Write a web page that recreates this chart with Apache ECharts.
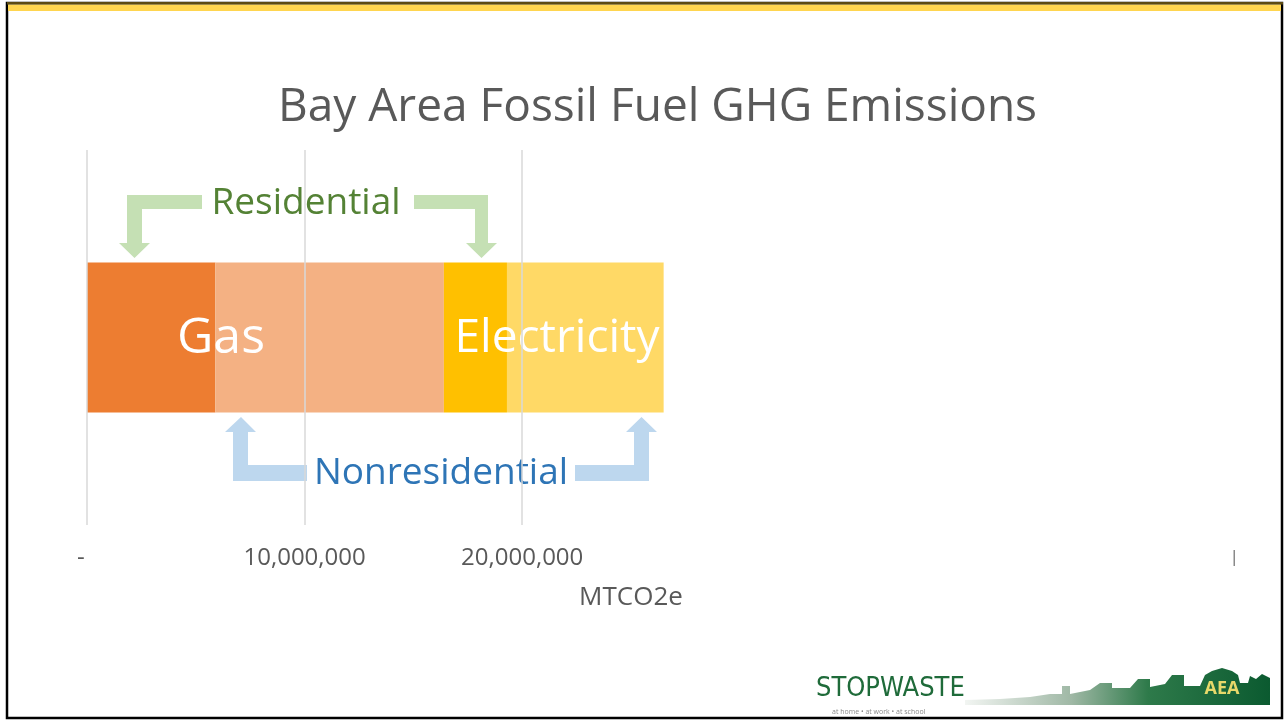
<!DOCTYPE html>
<html lang="en">

<head>
    <meta charset="UTF-8">
    <script src="https://cdn.jsdelivr.net/npm/echarts@6.0.0/dist/echarts.min.js"></script>
    <title>Bay Area Fossil Fuel GHG Emissions</title>
    <style>
        html, body { margin: 0; padding: 0; background: #fff; }
    </style>
</head>

<body>
    <div id="main" style="width: 1286px;height:721px;"></div>
    <script>
        // data (MTCO2e)
        var categories = ['Bay Area'];
        var resGas = [5900000];
        var nonresGas = [10500000];
        var resElec = [2900000];
        var nonresElec = [7200000];
        var gridValues = [0, 10000000, 20000000];
        var tickLabels = { 0: '-  ', 10000000: '10,000,000', 20000000: '20,000,000' };

        var FONT = '"Open Sans"';
        var green = '#C5E0B4', blue = '#BDD7EE';

        function seg(name, data, color) {
            return {
                name: name, type: 'bar', stack: 'total', data: data,
                barWidth: 150, silent: true,
                itemStyle: { color: color }
            };
        }

        var series = [
            seg('Residential gas', resGas, '#ED7D31'),
            seg('Nonresidential gas', nonresGas, '#F4B183'),
            seg('Residential electricity', resElec, '#FFC000'),
            seg('Nonresidential electricity', nonresElec, '#FFD966')
        ];
        // vertical gridlines only where the slide shows them
        series[0].markLine = {
            silent: true, symbol: 'none', label: { show: false },
            lineStyle: { color: '#D9D9D9', width: 1.5, type: 'solid' },
            data: gridValues.map(function (v) { return { xAxis: v }; })
        };

        // small skyline for the logo strip
        var sky = [[965, 705], [965, 700], [1000, 699], [1030, 697], [1050, 694], [1062, 694], [1062, 686], [1070, 686], [1070, 694],
            [1090, 690], [1100, 683], [1112, 683], [1112, 688], [1130, 688], [1138, 679], [1150, 679], [1150, 687], [1165, 684],
            [1172, 675], [1184, 675], [1184, 686], [1200, 686], [1205, 675], [1212, 671], [1222, 668], [1232, 671], [1238, 675],
            [1240, 683], [1248, 683], [1250, 676], [1256, 679], [1262, 674], [1270, 678], [1270, 705]];

        var myChart = echarts.init(document.getElementById('main'));
        var option = {
            backgroundColor: '#fff',
            title: {
                text: 'Bay Area Fossil Fuel GHG Emissions',
                left: 273, top: 80,
                textStyle: { fontFamily: 'Open Sans', fontSize: 46, fontWeight: 'normal', color: '#595959' }
            },
            grid: { left: 87, right: 111, top: 150, bottom: 196 },
            xAxis: {
                type: 'value', min: 0, max: 50000000, interval: 10000000,
                name: 'MTCO2e', nameLocation: 'middle', nameGap: 60,
                nameTextStyle: { fontFamily: 'Open Sans', fontSize: 26, color: '#595959' },
                axisLine: { show: false }, axisTick: { show: false },
                splitLine: { show: false },
                axisLabel: {
                    margin: 21, fontFamily: 'Open Sans', fontSize: 24, color: '#595959',
                    formatter: function (v) { return tickLabels[v] || ''; }
                }
            },
            yAxis: { type: 'category', data: categories, show: false },
            series: series,
            graphic: [
                // slide frame
                { type: 'rect', shape: { x: 7, y: 3, width: 1275, height: 715 }, style: { fill: 'none', stroke: '#000', lineWidth: 2.5 }, z: 10 },
                { type: 'rect', shape: { x: 8, y: 4.5, width: 1273, height: 6.5 }, style: { fill: '#FFD54F' }, z: 10 },
                { type: 'rect', shape: { x: 7, y: 2, width: 1276, height: 2.5 }, style: { fill: '#5C4A12' }, z: 11 },
                // residential arrows
                { type: 'polygon', shape: { points: [[202, 195], [202, 209], [142, 209], [142, 243], [150, 243], [134.5, 258], [119, 243], [127, 243], [127, 195]] }, style: { fill: green } },
                { type: 'polygon', shape: { points: [[414, 195], [488, 195], [488, 243], [497, 243], [481.5, 258], [466, 243], [475, 243], [475, 209], [414, 209]] }, style: { fill: green } },
                // nonresidential arrows
                { type: 'polygon', shape: { points: [[241, 417], [256, 432], [248, 432], [248, 465], [307, 465], [307, 481], [233, 481], [233, 432], [225, 432]] }, style: { fill: blue } },
                { type: 'polygon', shape: { points: [[641.5, 417], [657, 432], [649, 432], [649, 481], [575, 481], [575, 465], [634, 465], [634, 432], [626, 432]] }, style: { fill: blue } },
                { type: 'text', x: 306, y: 203, style: { text: 'Residential', fill: '#548235', font: '37px ' + FONT, textAlign: 'center', textVerticalAlign: 'middle' }, z: 5 },
                { type: 'text', x: 441, y: 473, style: { text: 'Nonresidential', fill: '#2E75B6', font: '37px ' + FONT, textAlign: 'center', textVerticalAlign: 'middle' }, z: 5 },
                { type: 'text', x: 221, y: 339, style: { text: 'Gas', fill: '#fff', font: '50px ' + FONT, textAlign: 'center', textVerticalAlign: 'middle' }, z: 5 },
                { type: 'text', x: 557, y: 339, style: { text: 'Electricity', fill: '#fff', font: '46px ' + FONT, textAlign: 'center', textVerticalAlign: 'middle' }, z: 5 },
                // stray mark at the right of the axis
                { type: 'rect', shape: { x: 1233.5, y: 550, width: 1.5, height: 16 }, style: { fill: '#8a8a8a' } },
                // logos, bottom right
                { type: 'text', x: 816, y: 689, style: { text: 'STOPWASTE', fill: '#1F6B3A', font: '27px "DejaVu Sans Condensed"', textVerticalAlign: 'middle' } },
                { type: 'text', x: 832, y: 712, style: { text: 'at home • at work • at school', fill: '#8a8a8a', font: '7px ' + FONT, textVerticalAlign: 'middle' } },
                {
                    type: 'polygon', shape: { points: sky },
                    style: {
                        fill: new echarts.graphic.LinearGradient(0, 0, 1, 0, [
                            { offset: 0, color: '#f2f5f2' }, { offset: 0.35, color: '#9fb8a5' },
                            { offset: 0.6, color: '#2e7a4a' }, { offset: 1, color: '#0b5a30' }
                        ])
                    }
                },
                { type: 'text', x: 1222, y: 689, style: { text: 'AEA', fill: '#E8D96A', font: 'bold 18px ' + FONT, textAlign: 'center', textVerticalAlign: 'middle' }, z: 5 }
            ]
        };
        myChart.setOption(option);
    </script>
</body>

</html>
